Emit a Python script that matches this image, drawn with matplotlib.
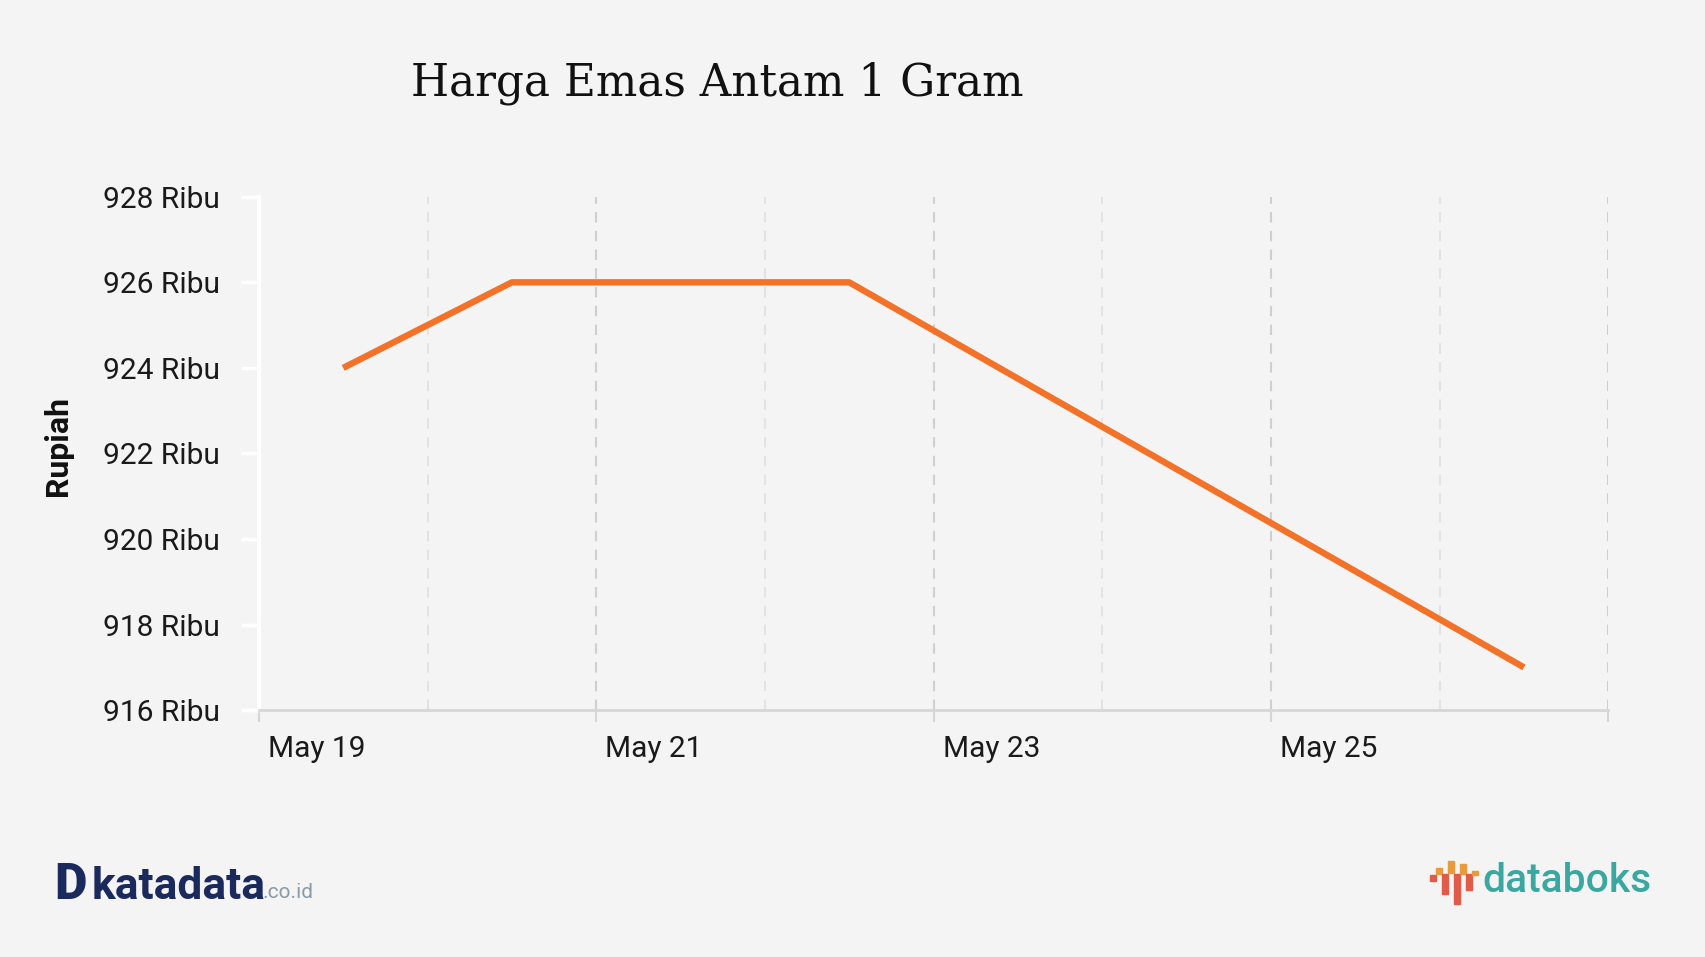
import matplotlib
matplotlib.use("Agg")
import matplotlib.pyplot as plt
import matplotlib.transforms as mtransforms
from matplotlib.patches import Rectangle
import pandas as pd

# data
dates = pd.to_datetime(["2023-05-19 12:00", "2023-05-20 12:00", "2023-05-21 12:00",
                        "2023-05-22 12:00", "2023-05-26 12:00"])
values = [924, 926, 926, 926, 917]
y_ticks = [916, 918, 920, 922, 924, 926, 928]
x_major = pd.to_datetime(["2023-05-19", "2023-05-21", "2023-05-23", "2023-05-25", "2023-05-27"])
x_labels = ["May 19", "May 21", "May 23", "May 25", ""]
x_minor = pd.to_datetime(["2023-05-20", "2023-05-22", "2023-05-24", "2023-05-26"])

plt.rcParams['font.family'] = ['Roboto', 'DejaVu Sans']
bg = "#f4f4f4"

fig = plt.figure(figsize=(17.05, 9.57), dpi=100)
fig.patch.set_facecolor(bg)
ax = fig.add_axes([0.1518, 0.2579, 0.7915, 0.5365])
ax.set_facecolor(bg)

ax.plot(dates, values, color="#f37228", lw=4.6, solid_capstyle="butt", zorder=3)

ax.set_xlim(pd.Timestamp("2023-05-19"), pd.Timestamp("2023-05-27"))
ax.set_ylim(916, 928)

ax.set_yticks(y_ticks)
ax.set_yticklabels([f"{v} Ribu" for v in y_ticks], fontsize=21.5, color="#1a1a1a")
ax.set_xticks(x_major)
ax.set_xticklabels([])
ax.set_xticks(x_minor, minor=True)

# x labels sit a little to the right of their ticks
offset = mtransforms.ScaledTranslation(9 / 100, -25 / 100, fig.dpi_scale_trans)
trans = ax.get_xaxis_transform() + offset
for d, lab in zip(x_major, x_labels):
    ax.text(d, 0, lab, transform=trans, fontsize=21.5, color="#1a1a1a",
            ha="left", va="top")

ax.tick_params(axis="y", length=13, width=2.5, color="white", pad=15)
ax.tick_params(axis="x", which="major", length=8.5, width=1.5, color="#d6d6d6")
ax.tick_params(axis="x", which="minor", length=0)

ax.grid(True, axis="x", which="major", color="#cfcfcf", lw=1.5, ls=(0, (5, 4)))
ax.grid(True, axis="x", which="minor", color="#e3e3e3", lw=1.5, ls=(0, (5, 4)))
ax.grid(False, axis="y")

for s in ["top", "right"]:
    ax.spines[s].set_visible(False)
ax.spines["left"].set_color("white")
ax.spines["left"].set_linewidth(3)
ax.spines["bottom"].set_color("#d6d6d6")
ax.spines["bottom"].set_linewidth(2)

ax.set_ylabel("Rupiah", fontsize=23, fontweight="bold", color="#111111")
ax.yaxis.set_label_coords(-0.138, 0.515)

fig.text(0.421, 0.913, "Harga Emas Antam 1 Gram", fontsize=31.5, family="DejaVu Serif",
         ha="center", va="center", color="#111111")

# katadata logo
fig.text(54 / 1705, 1 - 899 / 957, "D", fontsize=36, fontweight="heavy",
         color="#1b2a5c", ha="left", va="baseline")
fig.text(92 / 1705, 1 - 899 / 957, "katadata", fontsize=32, fontweight="bold",
         color="#1b2a5c", ha="left", va="baseline")
fig.text(262 / 1705, 1 - 898 / 957, ".co.id", fontsize=15, color="#8a9aa6",
         ha="left", va="baseline")

# databoks logo
bars = [(1430, 875, 6, 6, "#e05b4a"), (1436, 868, 6, 6, "#e99a3c"),
        (1442, 874, 6, 20, "#e05b4a"), (1448, 861, 6, 12, "#e99a3c"),
        (1454, 874, 6, 30, "#e05b4a"), (1460, 864, 6, 10, "#e99a3c"),
        (1466, 874, 6, 16, "#e05b4a"), (1472, 871, 6, 4, "#e99a3c")]
for x0, y0, w, h, c in bars:
    fig.patches.append(Rectangle((x0 / 1705, 1 - (y0 + h) / 957), w / 1705, h / 957,
                                 transform=fig.transFigure, color=c))
fig.text(1482 / 1705, 1 - 881 / 957, "databoks", fontsize=29.3, fontweight="medium",
         color="#3aa8a0", ha="left", va="center")

fig.savefig("out.png", dpi=100, facecolor=bg)
